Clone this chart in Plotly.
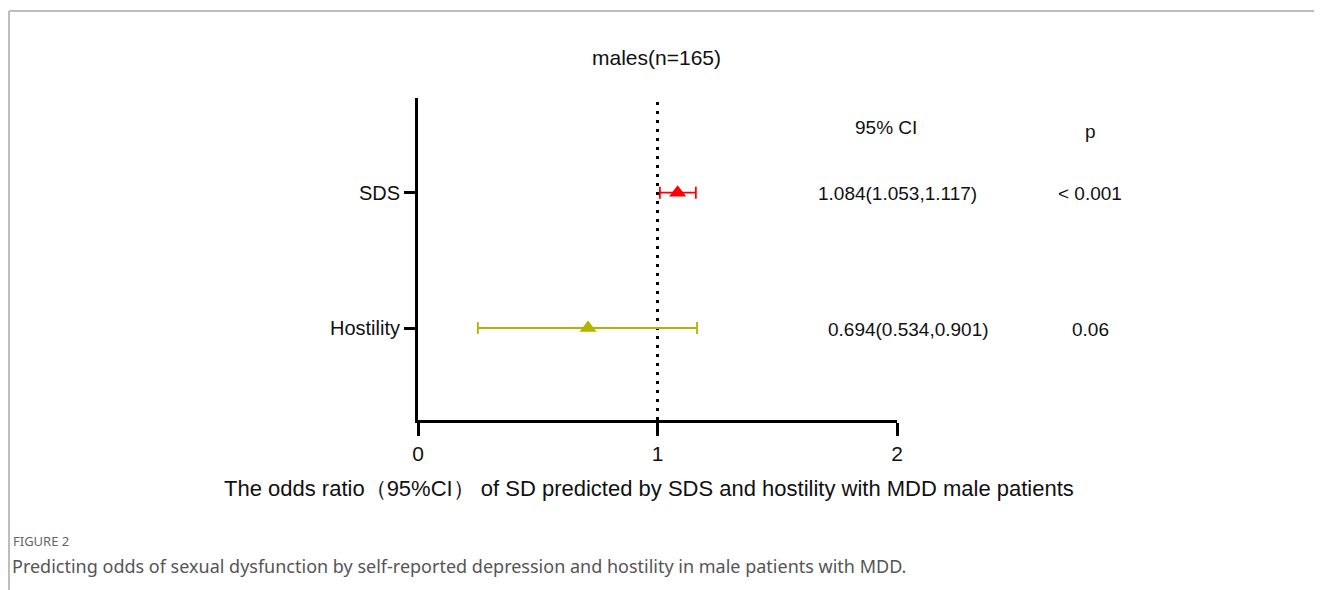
import plotly.graph_objects as go

# ---- data ----
variables = ["SDS", "Hostility"]
row_pos = [2, 1]
odds_ratio = [1.084, 0.71]
ci_low = [1.01, 0.25]
ci_high = [1.16, 1.165]
colors = ["#ff0000", "#b4b400"]
ci_text = ["1.084(1.053,1.117)", "0.694(0.534,0.901)"]
p_text = ["< 0.001", "0.06"]
x_ticks = [0, 1, 2]
x_tick_labels = ["0", "1", "2"]

OFF = 8  # page body margin
W, H = 1322 - OFF, 590 - OFF
# plot area in reference page pixels
L, R, T, B = 418, 897, 98, 420
YMIN, YMAX = 0.32, 2.70
FONT = "Liberation Sans, Arial, sans-serif"


def px(x):
    return (x - L) / (R - L)


def py(y):
    return (B - y) / (B - T)


fig = go.Figure()

for v, y, orv, lo, hi, c in zip(variables, row_pos, odds_ratio, ci_low, ci_high, colors):
    fig.add_trace(go.Scatter(
        x=[orv], y=[y], mode="markers", name=v, showlegend=False,
        marker=dict(symbol="triangle-up", size=15, color=c),
        error_x=dict(type="data", symmetric=False,
                     array=[hi - orv], arrayminus=[orv - lo],
                     color=c, thickness=1.8, width=6),
        cliponaxis=False,
    ))

# reference line at OR = 1
fig.add_shape(type="line", xref="x", yref="paper", x0=1, x1=1, y0=0, y1=1,
              line=dict(color="black", width=3, dash="3px,6px"), layer="below")

row_y_px = [193, 329]
ann = []
ann.append(dict(x=px(886), y=py(128), text="95% CI"))
ann.append(dict(x=px(1090), y=py(131), text="p"))
for ypx, ct, pt, cx in zip(row_y_px, ci_text, p_text, [897, 908]):
    ann.append(dict(x=px(cx), y=py(ypx), text=ct))
    ann.append(dict(x=px(1090), y=py(ypx), text=pt))
for a in ann:
    a.update(xref="paper", yref="paper", showarrow=False, xanchor="center", yanchor="middle",
             font=dict(family=FONT, size=19, color="#111"))
    fig.add_annotation(**a)

fig.add_annotation(x=px(656), y=py(57), xref="paper", yref="paper", text="males(n=165)",
                   showarrow=False, font=dict(family=FONT, size=21, color="#111"),
                   xanchor="center", yanchor="middle")
fig.add_annotation(x=px(649), y=py(488), xref="paper", yref="paper",
                   text="The odds ratio（95%CI） of SD predicted by SDS and hostility with MDD male patients",
                   showarrow=False, font=dict(family=FONT, size=22, color="#111"),
                   xanchor="center", yanchor="middle")
fig.add_annotation(x=px(11), y=py(541), xref="paper", yref="paper", text="FIGURE 2",
                   showarrow=False, font=dict(family="Noto Sans, sans-serif", size=13, color="#666"),
                   xanchor="left", yanchor="middle")
fig.add_annotation(x=px(10), y=py(566), xref="paper", yref="paper",
                   text="Predicting odds of sexual dysfunction by self-reported depression and hostility in male patients with MDD.",
                   showarrow=False, font=dict(family="Noto Sans, sans-serif", size=18, color="#555"),
                   xanchor="left", yanchor="middle")

# outer frame (top and left)
fig.add_shape(type="line", xref="paper", yref="paper",
              x0=px(9), x1=px(1330), y0=py(11), y1=py(11),
              line=dict(color="#bdbdbd", width=2))
fig.add_shape(type="line", xref="paper", yref="paper",
              x0=px(9), x1=px(9), y0=py(11), y1=py(600),
              line=dict(color="#bdbdbd", width=2))

fig.update_layout(
    width=W, height=H,
    margin=dict(l=L - OFF, r=W - (R - OFF), t=T - OFF, b=H - (B - OFF), autoexpand=False),
    plot_bgcolor="white", paper_bgcolor="white",
    showlegend=False,
    xaxis=dict(range=[0, 2], tickvals=x_ticks, ticktext=x_tick_labels,
               showgrid=False, zeroline=False, showline=True, linecolor="black", linewidth=3,
               ticks="outside", ticklen=13, tickwidth=3, tickcolor="black",
               tickfont=dict(family=FONT, size=21, color="#111")),
    yaxis=dict(range=[YMIN, YMAX], tickvals=row_pos, ticktext=variables,
               showgrid=False, zeroline=False, showline=True, linecolor="black", linewidth=3,
               ticks="outside", ticklen=11, tickwidth=3, tickcolor="black",
               tickfont=dict(family=FONT, size=20, color="#111")),
)

fig.write_html("out.html")
